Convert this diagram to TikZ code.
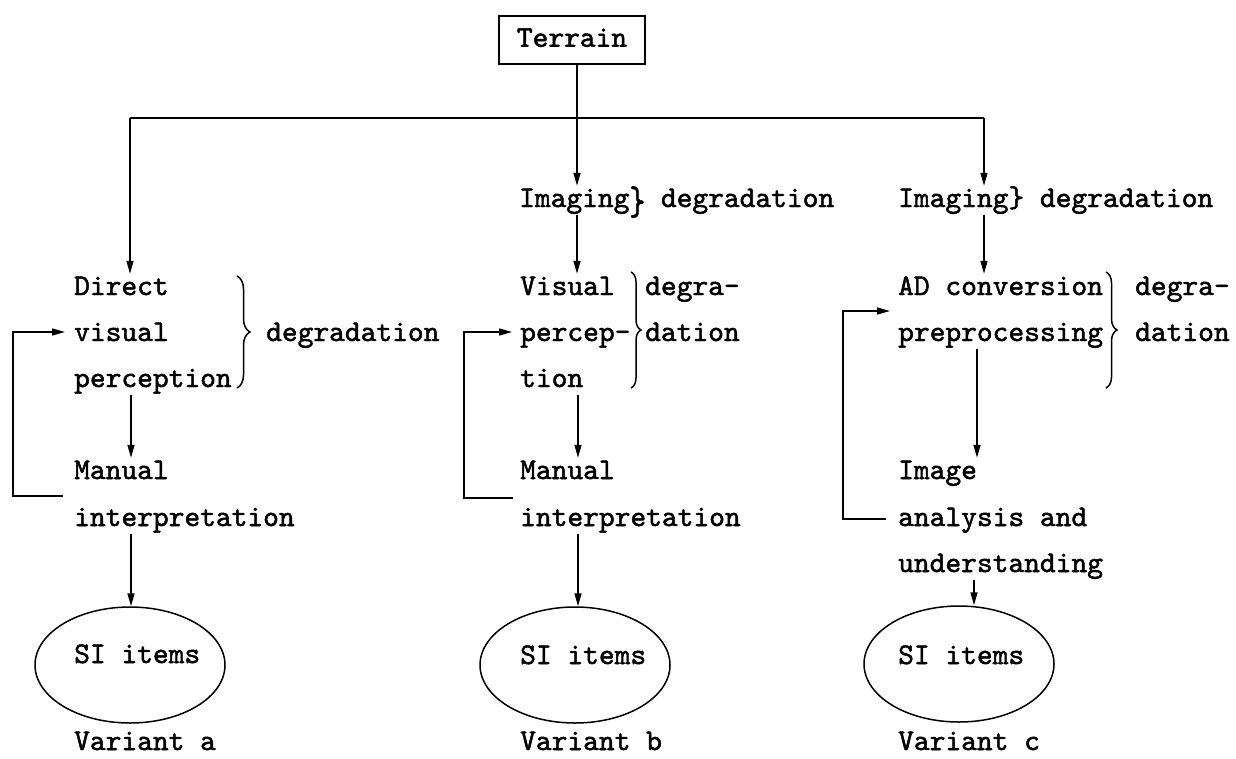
\documentclass[tikz,border=0pt]{standalone}
\usepackage{fontspec}
\usepackage{graphicx}
\usetikzlibrary{arrows.meta,decorations.pathreplacing,calc,shapes.geometric}
% typewriter face, slightly heavier than the default
\newfontfamily\typew{lmmono10-regular.otf}[FakeBold=1.6]
% a taller closing brace for the first imaging step
\newcommand\tallbrace{\raisebox{-0.25em}{\scalebox{1}[1.35]{\}}}}
\begin{document}
\begin{tikzpicture}[x=1pt,y=-1pt,
  font=\typew\fontsize{30}{36}\selectfont,
  lbl/.style={anchor=base west,inner sep=0pt,text height=21pt,text depth=7.5pt},
  conn/.style={line width=1.5pt},
  arr/.style={conn,-{Triangle[length=13pt,width=7pt]}},
  brc/.style={line width=1.5pt,decorate,decoration={brace,amplitude=#1}},
  sibox/.style={draw,ellipse,line width=1.5pt,minimum width=190pt,minimum height=116pt,inner sep=0pt},
]
\useasboundingbox (0,0) rectangle (1236,758);

% source
\node[draw,line width=1.5pt,minimum width=146pt,minimum height=48pt,inner sep=0pt,
      text height=21pt,text depth=7.5pt] (terrain) at (572,40) {Terrain};

% branching points
\coordinate (split) at (577,118);
\coordinate (legA) at (130,118);
\coordinate (legC) at (984,118);
\coordinate (colA) at (131,0);
\coordinate (colB) at (578,0);
\coordinate (colC) at (977,0);
\coordinate (colCe) at (974,0);

% variant a
\node[lbl] (dirA) at (74,295) {Direct};
\node[lbl] (visA) at (74,341) {visual};
\node[lbl] (perA) at (74,387) {perception};
\node[lbl] (degA) at (266,341) {degradation};
\node[lbl] (manA) at (74,479) {Manual};
\node[lbl] (intA) at (74,526) {interpretation};

% variant b
\node[lbl] (imgB) at (519,207) {Imaging\tallbrace{} degradation};
\node[lbl] (visB) at (520,295) {Visual};
\node[lbl] (perB) at (520,341) {percep-};
\node[lbl] (tioB) at (520,387) {tion};
\node[lbl] (degB1) at (645,295) {degra-};
\node[lbl] (degB2) at (645,341) {dation};
\node[lbl] (manB) at (520,479) {Manual};
\node[lbl] (intB) at (520,526) {interpretation};

% variant c
\node[lbl] (imgC) at (898,207) {Imaging\} degradation};
\node[lbl] (adC) at (898,295) {AD conversion};
\node[lbl] (preC) at (898,341) {preprocessing};
\node[lbl] (degC1) at (1135,295) {degra-};
\node[lbl] (degC2) at (1135,341) {dation};
\node[lbl] (imgtC) at (898,479) {Image};
\node[lbl] (anaC) at (898,526) {analysis and};
\node[lbl] (undC) at (898,572) {understanding};

% results
\node[sibox] (siA) at (130,665) {};
\node[sibox] (siB) at (575,665) {};
\node[sibox] (siC) at (959,664) {};
\node[lbl] (sitA) at (74,663) {SI items};
\node[lbl] (sitB) at (520,664) {SI items};
\node[lbl] (sitC) at (898,664) {SI items};
\node[lbl,text depth=0pt] (varA) at (74,750) {Variant a};
\node[lbl,text depth=0pt] (varB) at (520,750) {Variant b};
\node[lbl,text depth=0pt] (varC) at (898,750) {Variant c};

% degradation braces
\draw[brc=13pt] (237,276) -- (237,388);
\draw[brc=10pt] (631,272) -- (631,388);
\draw[brc=11pt] (1106,272) -- (1106,388);

% distribution from the terrain
\draw[arr] (terrain.south -| split) -- (split |- imgB.north);
\draw[conn] (legA) -- (legC);
\draw[arr] (legA) -- (legA |- dirA.north);
\draw[arr] (legC) -- (legC |- imgC.north);

% vertical flow
\draw[arr] (split |- imgB.south) -- (split |- visB.north);
\draw[arr] (legC |- imgC.south) -- (legC |- adC.north);
\draw[arr] (colA |- perA.south) -- (colA |- manA.north);
\draw[arr] (colA |- intA.south) -- (colA |- siA.north);
\draw[arr] (colB |- tioB.south) -- (colB |- manB.north);
\draw[arr] (colB |- intB.south) -- (colB |- siB.north);
\draw[arr] (colC |- preC.south) -- (colC |- imgtC.north);
\draw[arr] (colCe |- undC.south) -- (colCe |- siC.north);

% feedback loops
\draw[arr] ($(manA.base west)+(-11,17)$) -- ++(-50,0) |- ($(visA.base west)+(-9,-9)$);
\draw[arr] ($(manB.base west)+(-7,19)$) -- ++(-49,0) |- ($(perB.base west)+(-8,-9)$);
\draw[arr] ($(anaC.base west)+(-12,-7)$) -- ++(-43,0) |- ($(adC.base west)+(-8,16)$);
\end{tikzpicture}
\end{document}
